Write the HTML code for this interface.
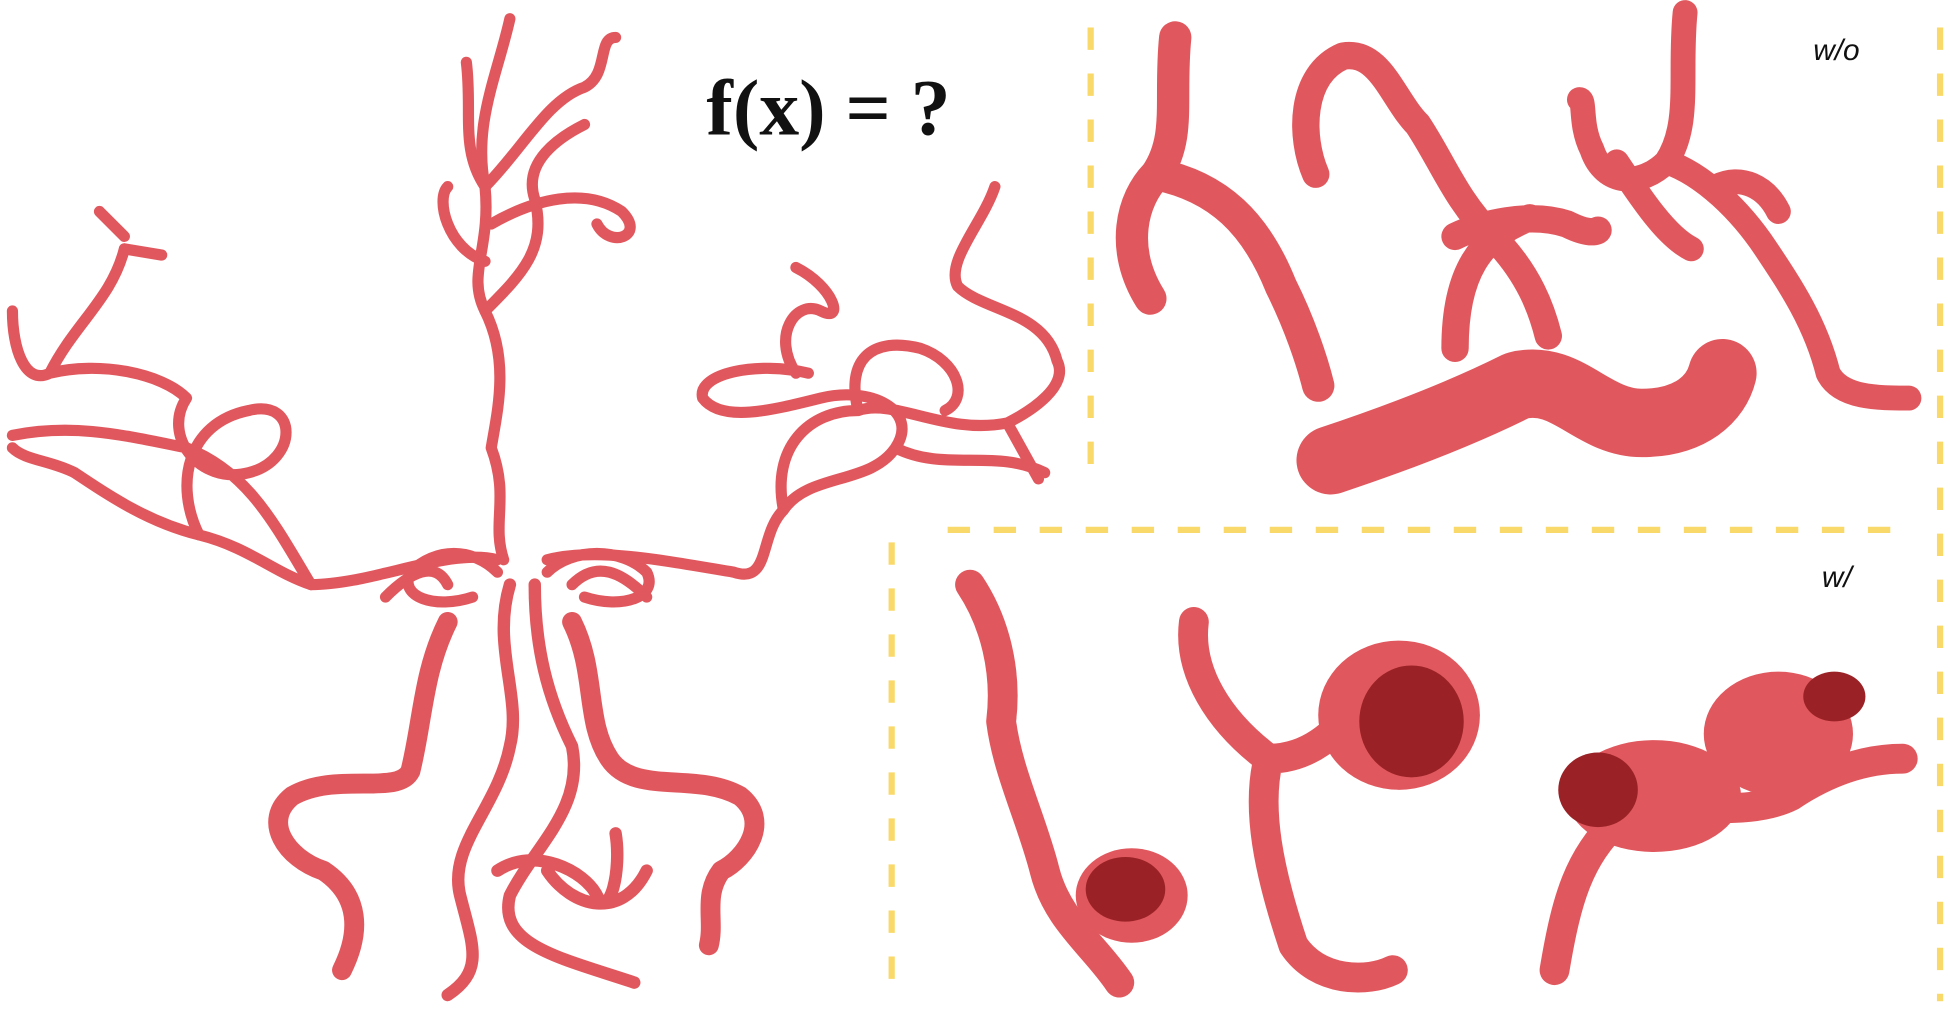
<!DOCTYPE html>
<html><head><meta charset="utf-8"><style>
html,body{margin:0;padding:0;background:#fff;width:1950px;height:1020px;overflow:hidden}
svg{display:block}
.v{fill:none;stroke:#e0585e;stroke-linecap:round;stroke-linejoin:round}
.d{fill:none;stroke:#f9d96a;stroke-width:5;stroke-dasharray:18 19}
</style></head><body>
<svg width="1950" height="1020" viewBox="0 0 1568 820">
<g>
<line class="d" x1="877" y1="22" x2="877" y2="390"/>
<line class="d" x1="1560" y1="22" x2="1560" y2="805"/>
<line class="d" x1="762" y1="426" x2="1520" y2="426"/>
<line class="d" x1="717" y1="436" x2="717" y2="805"/>
</g>
<text x="568" y="108" style="font-family:'Liberation Serif',serif;font-weight:bold;font-size:64px" fill="#111">f(x) = ?</text>
<text x="1458" y="48" style="font-family:'Liberation Sans',sans-serif;font-style:italic;font-size:24px" fill="#111">w/o</text>
<text x="1465" y="472" style="font-family:'Liberation Sans',sans-serif;font-style:italic;font-size:24px" fill="#111">w/</text>

<g>
<g class="v" stroke-width="9">
<path d="M410 15 C400 60 380 100 390 150 C395 200 375 220 390 250 C410 290 400 330 395 360 C410 400 395 420 405 450"/>
<path d="M390 150 C370 120 380 90 375 50 M390 150 C420 120 440 80 470 70 C490 60 480 30 495 30 M395 180 C430 160 470 150 500 170 C520 190 490 200 480 180 M390 210 C360 200 350 160 360 150 M390 250 C420 220 440 200 430 160 C420 130 450 110 470 100"/>
<path d="M400 450 C360 440 300 470 250 470 C220 460 200 440 160 430 C120 420 90 400 60 380 C40 370 20 370 10 360"/>
<path d="M250 470 C220 420 200 380 150 360 C100 350 60 340 10 350 M160 430 C140 390 150 340 200 330 C240 320 240 370 200 380 C160 390 130 350 150 320 C130 300 80 290 40 300 C20 310 10 280 10 250 M40 300 C60 260 90 240 100 200 M100 200 L130 205 M80 170 L100 190"/>
<path d="M440 450 C480 440 530 450 590 460 C620 470 610 430 630 410 C650 380 700 390 720 360 C740 330 700 310 660 320 C620 330 580 340 565 320 C560 300 610 290 650 300 M630 410 C620 360 650 330 690 330 C720 320 760 350 810 340 C830 330 860 310 850 290 C840 250 790 250 770 230 C760 210 790 180 800 150 M720 360 C760 380 800 360 840 380 M810 340 L835 385 M690 330 C680 290 700 270 740 280 C770 290 780 320 760 330 M640 300 C620 270 640 240 660 250 C680 260 670 230 640 215"/>
<path d="M360 470 C350 450 330 460 310 480 M460 470 C480 450 500 460 520 480 M400 460 C380 440 350 440 330 460 C320 480 350 490 380 480 M440 460 C460 440 500 440 520 460 C530 480 500 490 470 480"/>
</g>
<g class="v" stroke-width="16">
<path d="M360 500 C340 540 340 580 330 620 C320 640 270 620 235 640 C210 660 230 690 260 700 C290 720 290 750 275 780"/>
<path d="M460 500 C480 540 470 580 490 610 C510 640 560 620 595 640 C620 660 600 690 580 700 C565 720 575 740 570 760"/>
</g>
<g class="v" stroke-width="10">
<path d="M410 470 C395 520 420 560 410 600 C400 650 360 680 370 720 C380 760 390 780 360 800"/>
<path d="M430 470 C430 520 440 560 460 600 C470 650 430 680 410 720 C400 760 450 770 510 790"/>
<path d="M400 700 C430 680 470 700 480 720 C490 740 500 700 495 670 M440 700 C460 730 500 740 520 700"/>
</g>
</g>

<g class="v">
<path stroke-width="26" d="M945 30 C940 80 950 110 930 140 C910 160 900 200 925 240 M930 140 C980 150 1010 180 1030 230 C1045 260 1055 290 1060 310"/>
<path stroke-width="22" d="M1058 140 C1045 110 1045 60 1080 45 C1110 40 1120 80 1140 100 C1160 130 1170 160 1200 190 C1230 220 1240 250 1245 270 M1170 190 C1190 180 1230 170 1260 180 C1280 190 1285 185 1285 185 M1230 175 C1190 190 1170 220 1170 280"/>
<path stroke-width="55" d="M1070 370 C1130 350 1180 330 1220 310 C1260 300 1280 340 1320 340 C1360 340 1380 320 1385 300"/>
<path stroke-width="20" d="M1355 10 C1350 60 1360 100 1340 130 C1320 150 1290 150 1280 120 C1270 100 1275 80 1270 80 M1340 130 C1370 140 1400 170 1420 200 C1440 230 1460 260 1470 300 C1480 320 1510 320 1535 320 M1300 130 C1320 160 1340 190 1360 200 M1380 150 C1400 140 1420 150 1430 170"/>
</g>

<g>
<g class="v" stroke-width="24">
<path d="M780 470 C800 500 810 540 805 580 C810 620 830 660 840 700 C850 740 880 760 900 790"/>
<path d="M960 500 C955 540 980 580 1020 610 C1010 650 1020 700 1040 760 C1060 790 1100 790 1120 780 M1020 610 C1060 610 1080 580 1100 560"/>
<path d="M1250 780 C1260 720 1270 690 1300 660 C1340 640 1400 660 1440 640 C1470 620 1500 610 1530 610"/>
</g>
<g fill="#e0585e">
<ellipse cx="910" cy="720" rx="45" ry="38"/>
<ellipse cx="1125" cy="575" rx="65" ry="60"/>
<ellipse cx="1330" cy="640" rx="70" ry="45"/>
<ellipse cx="1430" cy="590" rx="60" ry="50"/>
</g>
<g fill="#9a2226">
<ellipse cx="905" cy="715" rx="32" ry="26"/>
<ellipse cx="1135" cy="580" rx="42" ry="45"/>
<ellipse cx="1285" cy="635" rx="32" ry="30"/>
<ellipse cx="1475" cy="560" rx="25" ry="20"/>
</g>
</g>
</svg>
</body></html>
